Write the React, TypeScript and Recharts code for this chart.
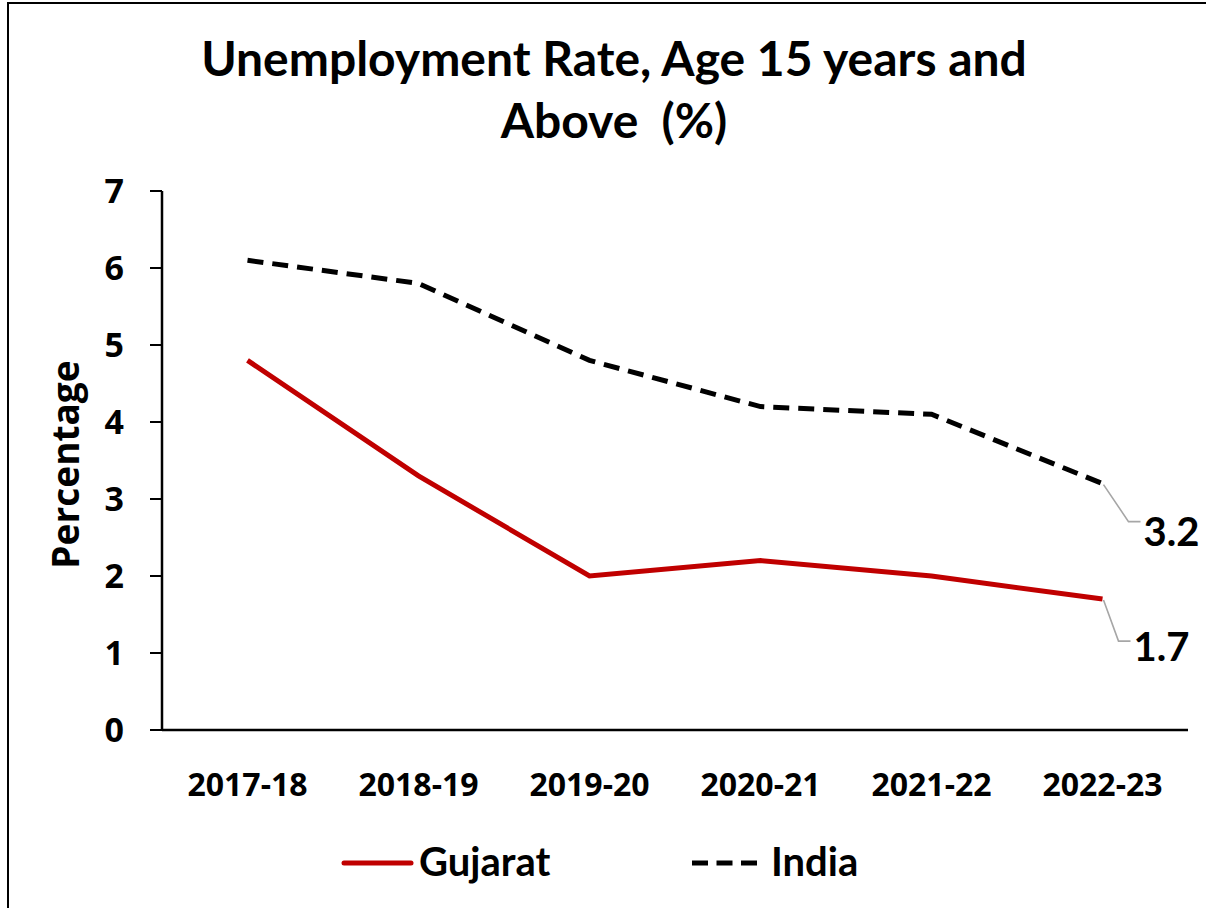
import React from "react";
import { LineChart, Line, XAxis, YAxis, LabelList } from "recharts";

const years = ["2017-18", "2018-19", "2019-20", "2020-21", "2021-22", "2022-23"];
const gujarat = [4.8, 3.3, 2.0, 2.2, 2.0, 1.7];
const india = [6.1, 5.8, 4.8, 4.2, 4.1, 3.2];
const yTicks = [0, 1, 2, 3, 4, 5, 6, 7];
const edgeTicks = [0, 1, 2, 3, 4, 5, 6];

const data = years.map((year, i) => ({ year, gujarat: gujarat[i], india: india[i] }));

const TITLE_FONT = "Lato, 'Open Sans', sans-serif";
const AXIS_FONT = "'Open Sans', sans-serif";

const RED = "#C00000";

// leader line + value, only on the last point
function EndLabel(props: any) {
  const { x, y, value, index, dx, dy, ty } = props;
  if (index !== years.length - 1) return null;
  const px = x + dx;
  const py = y + dy;
  return (
    <g>
      <polyline
        points={`${x + 1},${y + 1} ${px},${py} ${px + 12},${py}`}
        fill="none"
        stroke="#a6a6a6"
        strokeWidth={1.6}
      />
      <text
        x={px + 15}
        y={py + ty}
        fontFamily={TITLE_FONT}
        fontWeight={700}
        fontSize={40}
        fill="#000"
      >
        {value}
      </text>
    </g>
  );
}

function YLabel(props: any) {
  const { viewBox } = props;
  const cy = viewBox.y + viewBox.height / 2 + 4;
  const cx = 79;
  return (
    <text
      x={cx}
      y={cy}
      transform={`rotate(-90, ${cx}, ${cy})`}
      textAnchor="middle"
      fontFamily={AXIS_FONT}
      fontWeight={700}
      fontSize={37}
      fill="#000"
    >
      Percentage
    </text>
  );
}

export default function App() {
  return (
    <div
      style={{
        position: "absolute",
        left: 0,
        top: 0,
        width: 1206,
        height: 908,
        overflow: "hidden",
        background: "#fff",
      }}
    >
      <div
        style={{
          position: "absolute",
          left: 7,
          top: 2,
          width: 1400,
          height: 1100,
          border: "2.5px solid #000",
          boxSizing: "border-box",
        }}
      />
      <div
        style={{
          position: "absolute",
          left: 0,
          top: 27,
          width: 1228,
          textAlign: "center",
          fontFamily: TITLE_FONT,
          fontWeight: 700,
          fontSize: 48,
          lineHeight: "62px",
          color: "#000",
        }}
      >
        Unemployment Rate, Age 15 years and
        <br />
        Above&nbsp; (%)
      </div>

      <div style={{ position: "absolute", left: 0, top: 0 }}>
        <LineChart
          width={1206}
          height={908}
          data={data}
          margin={{ top: 191, right: 18, bottom: 118, left: 0 }}
        >
          <XAxis
            xAxisId="edge"
            type="number"
            domain={[0, 6]}
            ticks={edgeTicks}
            allowDataOverflow
            height={0}
            axisLine={false}
            tick={false}
            tickSize={13}
            tickLine={{ stroke: "#000", strokeWidth: 2 }}
            interval={0}
          />
          <XAxis
            xAxisId="cat"
            dataKey="year"
            scale="band"
            height={60}
            axisLine={{ stroke: "#000", strokeWidth: 2.5 }}
            tickLine={false}
            tickSize={0}
            tickMargin={43}
            interval={0}
            tick={{ fill: "#000", fontFamily: AXIS_FONT, fontWeight: 700, fontSize: 32 }}
          />
          <YAxis
            width={162}
            domain={[0, 7]}
            ticks={yTicks}
            interval={0}
            axisLine={{ stroke: "#000", strokeWidth: 2.5 }}
            tickLine={{ stroke: "#000", strokeWidth: 2 }}
            tickSize={12}
            tickMargin={26}
            tick={{ fill: "#000", fontFamily: AXIS_FONT, fontWeight: 700, fontSize: 34 }}
            label={<YLabel />}
          />
          <Line
            xAxisId="cat"
            type="linear"
            dataKey="india"
            stroke="#000"
            strokeWidth={5}
            strokeDasharray="16 9"
            dot={false}
            activeDot={false}
            isAnimationActive={false}
          >
            <LabelList dataKey="india" content={<EndLabel dx={26} dy={38} ty={24} />} />
          </Line>
          <Line
            xAxisId="cat"
            type="linear"
            dataKey="gujarat"
            stroke={RED}
            strokeWidth={5}
            dot={false}
            activeDot={false}
            isAnimationActive={false}
          >
            <LabelList dataKey="gujarat" content={<EndLabel dx={16} dy={42} ty={20} />} />
          </Line>
        </LineChart>
      </div>

      <svg
        width={1206}
        height={908}
        style={{ position: "absolute", left: 0, top: 0, pointerEvents: "none" }}
      >
        <line x1={344} y1={863} x2={411} y2={863} stroke={RED} strokeWidth={5} strokeLinecap="round" />
        <text x={419} y={876} fontFamily={TITLE_FONT} fontWeight={700} fontSize={40} fill="#000">
          Gujarat
        </text>
        <line x1={692} y1={863} x2={757} y2={863} stroke="#000" strokeWidth={5} strokeDasharray="16 8.5" />
        <text x={771} y={876} fontFamily={TITLE_FONT} fontWeight={700} fontSize={40} fill="#000">
          India
        </text>
      </svg>
    </div>
  );
}
